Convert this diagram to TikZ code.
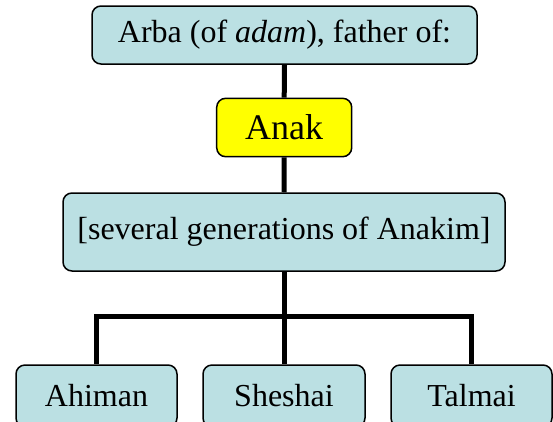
\documentclass[tikz,border=0pt]{standalone}
\usepackage{fontspec}
\setmainfont{Liberation Serif}
\definecolor{boxblue}{RGB}{187,224,227}
\definecolor{boxyellow}{RGB}{255,255,0}
\tikzset{
  famebox/.style={draw=black, line width=1.5pt, rounded corners=9pt, fill=boxblue,
    inner sep=0pt, align=center, font=\fontsize{32}{38}\selectfont},
  conn/.style={draw=black, line width=5pt, line join=miter}
}
\begin{document}
\begin{tikzpicture}[x=1pt,y=-1pt]
\useasboundingbox (0,0) rectangle (553,421);
\clip (0,0) rectangle (553,421);
\node[famebox, minimum width=385pt, minimum height=58pt] (top) at (284.5,35) {Arba (of \textit{adam}), father of:};
\node[famebox, fill=boxyellow, minimum width=135pt, minimum height=58.4pt, font=\fontsize{36}{42}\selectfont] (anak) at (284.2,127.5) {Anak};
\node[famebox, minimum width=442pt, minimum height=78pt] (mid) at (284,232) {[several generations of Anakim]};
\node[famebox, minimum width=161pt, minimum height=62pt] (a1) at (96.5,396) {Ahiman};
\node[famebox, minimum width=162pt, minimum height=62pt] (a2) at (284,396) {Sheshai};
\node[famebox, minimum width=161pt, minimum height=62pt] (a3) at (471.5,396) {Talmai};
\coordinate (j) at (284,316);
\draw[conn] (top.south) -- (anak.north);
\draw[conn] (anak.south) -- (mid.north);
\draw[conn] (mid.south) -- (a2.north);
\draw[conn] (a1.north) |- (j) -| (a3.north);
\end{tikzpicture}
\end{document}
